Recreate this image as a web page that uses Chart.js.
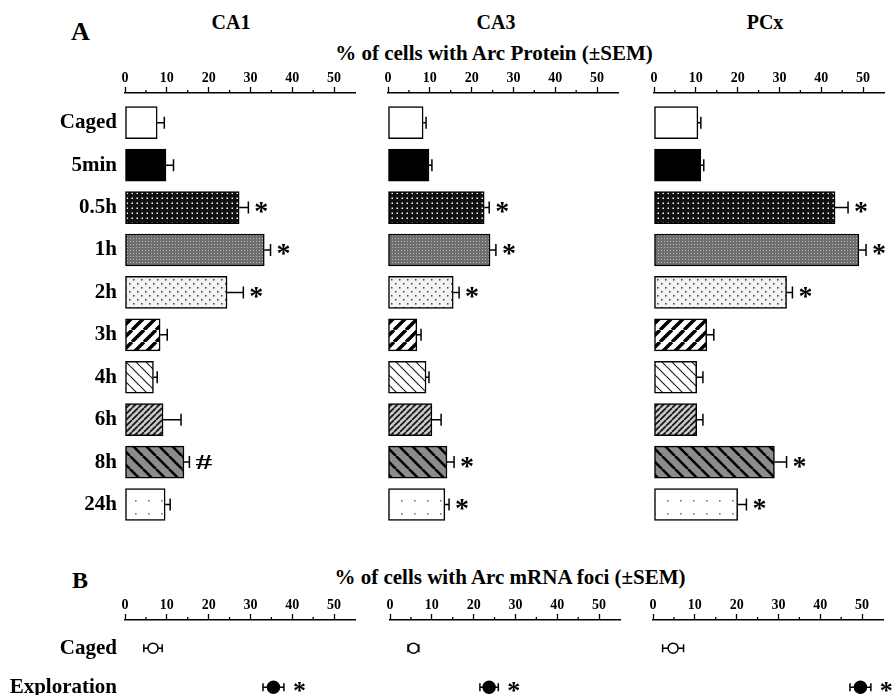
<!DOCTYPE html>
<html>
<head>
<meta charset="utf-8">
<script src="https://cdn.jsdelivr.net/npm/chart.js@4.4.1/dist/chart.umd.min.js"></script>
<style>
  body { margin: 0; background: #fff; }
  #wrap { position: relative; width: 892px; height: 696px; overflow: hidden;
          font-family: "Liberation Serif", "Times New Roman", serif; font-weight: bold; color: #000; }
  #wrap canvas { position: absolute; }
  .lbl { position: absolute; line-height: 1; white-space: nowrap; }
  .mid { transform: translateX(-50%); }
</style>
</head>
<body>
<div id="wrap">
  <div class="lbl" style="left:71px;top:19px;font-size:26px">A</div>
  <div class="lbl mid" style="left:231px;top:12px;font-size:20px">CA1</div>
  <div class="lbl mid" style="left:496px;top:12px;font-size:20px">CA3</div>
  <div class="lbl mid" style="left:765px;top:12px;font-size:20px">PCx</div>
  <div class="lbl mid" style="left:494px;top:43px;font-size:21px">% of cells with Arc Protein (±SEM)</div>

  <canvas id="aCA1" width="360" height="464" style="left:0;top:66px"></canvas>
  <canvas id="aCA3" width="270" height="464" style="left:370px;top:66px"></canvas>
  <canvas id="aPCx" width="256" height="464" style="left:636px;top:66px"></canvas>

  <div class="lbl" style="left:72px;top:568px;font-size:24px">B</div>
  <div class="lbl mid" style="left:510px;top:567px;font-size:21px">% of cells with Arc mRNA foci (±SEM)</div>

  <canvas id="bCA1" width="360" height="101" style="left:0;top:594px"></canvas>
  <canvas id="bCA3" width="270" height="101" style="left:372px;top:594px"></canvas>
  <canvas id="bPCx" width="257" height="101" style="left:635px;top:594px"></canvas>
</div>
<script>
// A: Arc protein, % of cells (mean, SEM, significance mark)
const groups = ['Caged', '5min', '0.5h', '1h', '2h', '3h', '4h', '6h', '8h', '24h'];

const protCA1 = [7.7, 9.8, 27.3, 33.3, 24.4, 8.4, 6.8, 9.1, 14.1, 9.6];
const semCA1  = [1.7, 1.8, 2.2, 1.5, 3.9, 1.7, 0.9, 4.3, 1.3, 1.2];
const sigCA1  = ['', '', '*', '*', '*', '', '', '', '#', ''];

const protCA3 = [8.4, 9.8, 23.0, 24.4, 15.6, 6.9, 9.1, 10.5, 14.1, 13.6];
const semCA3  = [0.7, 0.7, 1.2, 1.4, 1.4, 1.0, 0.7, 2.2, 1.7, 1.0];
const sigCA3  = ['', '', '*', '*', '*', '', '', '', '*', '*'];

const protPCx = [10.5, 11.2, 43.3, 49.0, 31.7, 12.6, 10.2, 10.2, 28.8, 20.0];
const semPCx  = [0.7, 0.7, 3.1, 1.7, 1.4, 1.7, 1.5, 1.5, 2.9, 2.1];
const sigPCx  = ['', '', '*', '*', '*', '', '', '', '*', '*'];

// B: Arc mRNA foci
const mrnaGroups = ['Caged', 'Exploration'];
const mrnaCA1 = [6.7, 35.5];
const mrnaSemCA1 = [2.2, 2.5];
const mrnaCA3 = [5.6, 23.7];
const mrnaSemCA3 = [1.3, 2.2];
const mrnaPCx = [4.8, 49.6];
const mrnaSemPCx = [2.5, 2.5];
const mrnaSig = ['', '*'];

const xLabels = [0, 10, 20, 30, 40, 50];

Chart.defaults.font.family = '"Liberation Serif", "Times New Roman", serif';
Chart.defaults.font.weight = 'bold';
Chart.defaults.color = '#000';

// bar fills
function pattern(size, bg, draw) {
  const c = document.createElement('canvas');
  c.width = c.height = size;
  const g = c.getContext('2d');
  g.fillStyle = bg;
  g.fillRect(0, 0, size, size);
  draw(g, size);
  return g.createPattern(c, 'repeat');
}
function dots(color, r, pts) {
  return g => { g.fillStyle = color; pts.forEach(([x, y]) => g.fillRect(x, y, r, r)); };
}
function stripes(color, w, dir) {
  return (g, s) => {
    g.strokeStyle = color; g.lineWidth = w; g.beginPath();
    for (let k = -1; k <= 1; k++) {
      if (dir > 0) { g.moveTo(k * s, s); g.lineTo(k * s + s, 0); }
      else { g.moveTo(k * s, 0); g.lineTo(k * s + s, s); }
    }
    g.stroke();
  };
}
const fills = [
  '#ffffff',
  '#000000',
  pattern(5, '#111', dots('#fff', 1.5, [[1.5, 1.5]])),
  pattern(3, '#6e6e6e', dots('#bdbdbd', 1, [[1, 1]])),
  pattern(8, '#f2f2f2', dots('#3a3a3a', 1.5, [[1, 1], [5, 5]])),
  pattern(12, '#fff', stripes('#000', 3.5, 1)),
  pattern(10, '#fff', stripes('#222', 1.2, -1)),
  pattern(6, '#c8c8c8', stripes('#111', 1.6, 1)),
  pattern(13, '#8c8c8c', stripes('#000', 2.6, -1)),
  pattern(13, '#fff', dots('#777', 1.6, [[5, 5]]))
];

// error bars + significance marks
function drawErr(chart, opts) {
  const { ctx, scales: { x, y } } = chart;
  const pts = chart.data.datasets[0].data;
  ctx.save();
  ctx.strokeStyle = '#000';
  ctx.fillStyle = '#000';
  ctx.lineWidth = 1.5;
  pts.forEach((d, i) => {
    const py = y.getPixelForValue(d.y);
    const x1 = x.getPixelForValue(d.x + opts.sem[i]);
    const x0 = x.getPixelForValue(opts.both ? d.x - opts.sem[i] : d.x);
    ctx.beginPath();
    ctx.moveTo(x0, py); ctx.lineTo(x1, py);
    ctx.moveTo(x1, py - opts.cap); ctx.lineTo(x1, py + opts.cap);
    if (opts.both) { ctx.moveTo(x0, py - opts.cap); ctx.lineTo(x0, py + opts.cap); }
    ctx.stroke();
    const s = opts.sig[i];
    if (s) {
      const hash = s === '#';
      ctx.font = 'bold ' + (hash ? 21 : opts.size) + 'px "Liberation Serif", serif';
      ctx.textBaseline = 'alphabetic';
      const m = ctx.measureText(s);
      const ty = py + (m.actualBoundingBoxAscent - m.actualBoundingBoxDescent) / 2;
      ctx.save();
      ctx.translate(x1 + opts.gap, ty);
      if (hash) ctx.scale(1.6, 1);
      ctx.fillText(s, 0, 0);
      ctx.restore();
    }
  });
  ctx.restore();
}
const errBars = {
  id: 'errbars',
  beforeDatasetsDraw(chart, args, opts) { if (opts.both) drawErr(chart, opts); },
  afterDatasetsDraw(chart, args, opts) { if (!opts.both) drawErr(chart, opts); }
};

// short minor ticks at the 5s
const minorTicks = {
  id: 'minorTicks',
  afterDraw(chart) {
    const { ctx, scales: { x } } = chart;
    ctx.save();
    ctx.strokeStyle = '#000';
    ctx.lineWidth = 1.3;
    x.ticks.forEach(t => {
      if (t.value % 10 === 5 && t.value < 55) {
        const px = x.getPixelForValue(t.value);
        ctx.beginPath(); ctx.moveTo(px, x.bottom); ctx.lineTo(px, x.bottom - 3); ctx.stroke();
      }
    });
    ctx.restore();
  }
};

function xAxis(h) {
  return {
    type: 'linear', position: 'top', min: 0, max: 55,
    afterBuildTicks: s => { const t = []; for (let v = 0; v <= 55; v += 5) t.push({ value: v }); s.ticks = t; },
    afterFit: s => { s.height = h; s.paddingLeft = 0; s.paddingRight = 0; },
    border: { display: true, color: '#000', width: 1.5 },
    grid: {
      display: true, drawOnChartArea: false, drawTicks: true, tickLength: 6, tickWidth: 1.3,
      tickColor: c => xLabels.includes(c.tick.value) ? '#000' : 'rgba(0,0,0,0)'
    },
    ticks: {
      autoSkip: false, maxRotation: 0, padding: 0, color: '#000',
      font: { size: 14, weight: 'bold' },
      callback: v => xLabels.includes(v) ? String(v) : ''
    }
  };
}

function yAxis(labels, min, max, show) {
  return {
    type: 'linear', reverse: true, min: min, max: max, offset: false, display: show,
    afterBuildTicks: s => { s.ticks = labels.map((_, i) => ({ value: i })); },
    afterFit: s => {
      if (show) s.width = 125;
      s.paddingTop = 0; s.paddingBottom = 0;
    },
    grid: { display: false, drawTicks: false }, border: { display: false },
    ticks: { autoSkip: false, padding: 8, color: '#000', font: { size: 21, weight: 'bold' },
             callback: v => labels[v] }
  };
}

function protChart(id, vals, sem, sig, show, padL, padR) {
  new Chart(document.getElementById(id), {
    type: 'bar',
    data: {
      datasets: [{
        data: vals.map((v, i) => ({ x: v, y: i })),
        backgroundColor: fills, borderColor: '#000', borderWidth: 1.5,
        borderSkipped: false, barThickness: 32
      }]
    },
    options: {
      indexAxis: 'y', responsive: false, animation: false, events: [],
      layout: { autoPadding: false, padding: { left: padL, right: padR, top: 0, bottom: 0 } },
      plugins: {
        legend: { display: false }, tooltip: { enabled: false },
        errbars: { sem: sem, sig: sig, cap: 6, gap: 6, size: 28, both: false }
      },
      scales: { x: xAxis(27), y: yAxis(groups, -0.7, 9.6, show) }
    },
    plugins: [errBars, minorTicks]
  });
}

function mrnaChart(id, vals, sem, show, padL, padR) {
  new Chart(document.getElementById(id), {
    type: 'scatter',
    data: {
      datasets: [{
        data: vals.map((v, i) => ({ x: v, y: i })),
        pointRadius: [5, 6], pointBackgroundColor: ['#fff', '#000'],
        pointBorderColor: '#000', pointBorderWidth: 1.5
      }]
    },
    options: {
      responsive: false, animation: false, events: [],
      layout: { autoPadding: false, padding: { left: padL, right: padR, top: 0, bottom: 0 } },
      plugins: {
        legend: { display: false }, tooltip: { enabled: false },
        errbars: { sem: sem, sig: mrnaSig, cap: 4, gap: 9, size: 26, both: true }
      },
      scales: { x: xAxis(26), y: yAxis(mrnaGroups, -0.72, 1.2, show) }
    },
    plugins: [errBars, minorTicks]
  });
}

protChart('aCA1', protCA1, semCA1, sigCA1, true, 0, 5);
protChart('aCA3', protCA3, semCA3, sigCA3, false, 18, 22);
protChart('aPCx', protPCx, semPCx, sigPCx, false, 18, 8);

mrnaChart('bCA1', mrnaCA1, mrnaSemCA1, true, 0, 5);
mrnaChart('bCA3', mrnaCA3, mrnaSemCA3, false, 18, 22);
mrnaChart('bPCx', mrnaPCx, mrnaSemPCx, false, 18, 9);
</script>
</body>
</html>
